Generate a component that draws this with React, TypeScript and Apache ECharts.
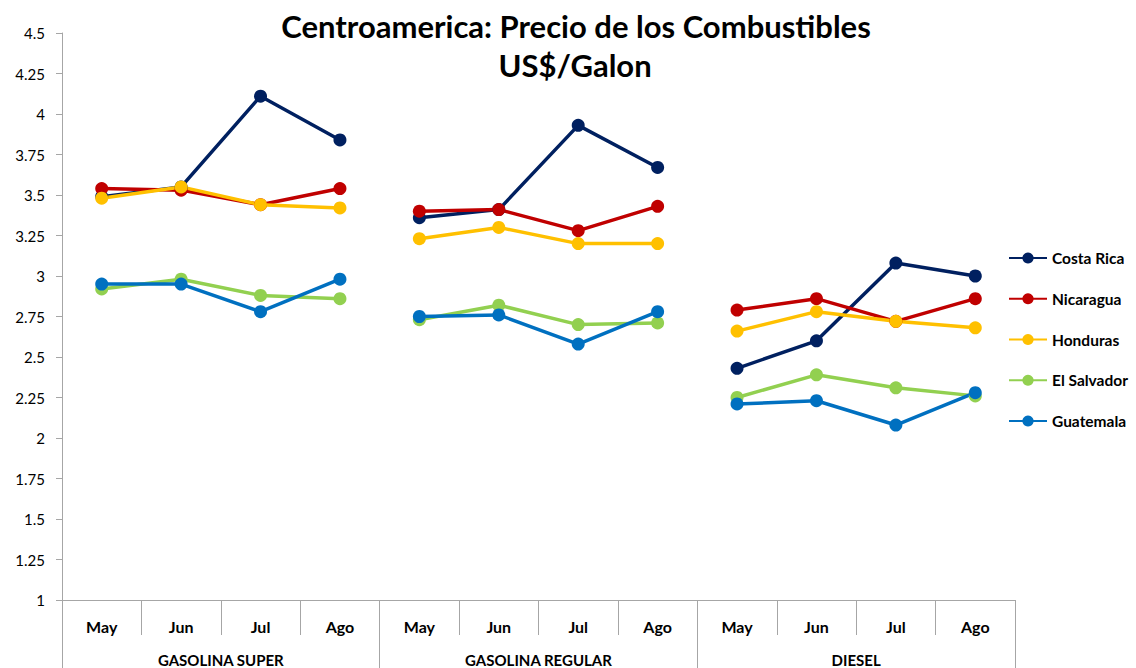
import React, { useEffect, useRef } from "react";
import * as echarts from "echarts";

const months = ["May", "Jun", "Jul", "Ago"];
const groups = ["GASOLINA SUPER", "GASOLINA REGULAR", "DIESEL"];
const categories = groups.flatMap(() => months);

const countries = ["Costa Rica", "Nicaragua", "Honduras", "El Salvador", "Guatemala"];
const colors = ["#002060", "#C00000", "#FFC000", "#92D050", "#0070C0"];

const costaRica = [3.49, 3.55, 4.11, 3.84, 3.36, 3.41, 3.93, 3.67, 2.43, 2.6, 3.08, 3.0];
const nicaragua = [3.54, 3.53, 3.44, 3.54, 3.4, 3.41, 3.28, 3.43, 2.79, 2.86, 2.72, 2.86];
const honduras = [3.48, 3.55, 3.44, 3.42, 3.23, 3.3, 3.2, 3.2, 2.66, 2.78, 2.72, 2.68];
const elSalvador = [2.92, 2.98, 2.88, 2.86, 2.73, 2.82, 2.7, 2.71, 2.25, 2.39, 2.31, 2.26];
const guatemala = [2.95, 2.95, 2.78, 2.98, 2.75, 2.76, 2.58, 2.78, 2.21, 2.23, 2.08, 2.28];

const seriesValues = [costaRica, nicaragua, honduras, elSalvador, guatemala];

const FONT = "Lato, 'Open Sans', sans-serif";

export default function App() {
  const ref = useRef<HTMLDivElement>(null);
  useEffect(() => {
    if (!ref.current) return;
    const chart = echarts.init(ref.current, undefined, { renderer: "svg" });
    const series: any[] = [];
    countries.forEach((name, ci) => {
      groups.forEach((_, gi) => {
        series.push({
          type: "line",
          name,
          xAxisIndex: 0,
          data: seriesValues[ci].map((v, i) => (Math.floor(i / 4) === gi ? v : null)),
          connectNulls: false,
          symbol: "circle",
          symbolSize: 13,
          itemStyle: { color: colors[ci] },
          lineStyle: { color: colors[ci], width: 3.5 },
        });
      });
    });
    chart.setOption({
      animation: false,
      textStyle: { fontFamily: FONT },
      graphic: [
        {
          type: "text",
          x: 576,
          y: 26,
          style: {
            text: "Centroamerica: Precio de los Combustibles",
            font: `bold 31px ${FONT}`,
            fill: "#000",
            textAlign: "center",
            textVerticalAlign: "middle",
          },
        },
        {
          type: "text",
          x: 575,
          y: 65,
          style: {
            text: "US$/Galon",
            font: `bold 31px ${FONT}`,
            fill: "#000",
            textAlign: "center",
            textVerticalAlign: "middle",
          },
        },
      ],
      legend: {
        data: countries,
        orient: "vertical",
        left: 1003,
        top: 245,
        itemWidth: 38,
        itemHeight: 14,
        itemGap: 24.75,
        textStyle: { fontFamily: FONT, fontWeight: "bold", fontSize: 15.5, color: "#000" },
      },
      grid: { left: 62, right: 121, top: 33, bottom: 68, containLabel: false },
      xAxis: [
        {
          type: "category",
          position: "bottom",
          data: categories,
          boundaryGap: true,
          axisLine: { show: true, lineStyle: { color: "#A6A6A6", width: 1 } },
          axisTick: { show: true, length: 35, interval: 0, lineStyle: { color: "#A6A6A6" } },
          axisLabel: {
            interval: 0,
            margin: 18,
            fontFamily: FONT,
            fontWeight: "bold",
            fontSize: 16,
            color: "#000",
          },
        },
        {
          type: "category",
          position: "bottom",
          data: groups,
          boundaryGap: true,
          axisLine: { show: true, lineStyle: { color: "#A6A6A6", width: 1 } },
          axisTick: { show: true, length: 70, interval: 0, lineStyle: { color: "#A6A6A6" } },
          axisLabel: {
            interval: 0,
            margin: 52,
            fontFamily: FONT,
            fontWeight: "bold",
            fontSize: 15,
            color: "#000",
          },
        },
      ],
      yAxis: {
        type: "value",
        min: 1,
        max: 4.5,
        interval: 0.25,
        splitLine: { show: false },
        axisLine: { show: true, lineStyle: { color: "#A6A6A6" } },
        axisTick: { show: true, length: 6, lineStyle: { color: "#A6A6A6" } },
        axisLabel: { fontFamily: FONT, fontSize: 15, color: "#000", margin: 17 },
      },
      series,
    });
    return () => chart.dispose();
  }, []);
  return (
    <div
      ref={ref}
      style={{ position: "fixed", left: 0, top: 0, width: 1136, height: 668, background: "#fff" }}
    />
  );
}
